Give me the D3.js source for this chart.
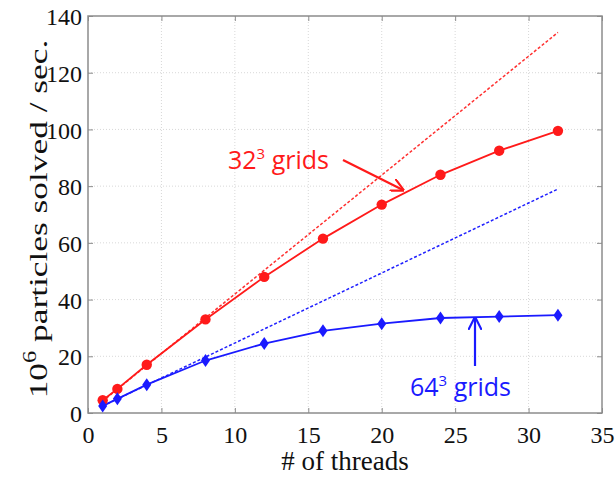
<!DOCTYPE html>
<html>
<head>
<meta charset="utf-8">
<script src="https://cdn.jsdelivr.net/npm/d3@7"></script>
<style>
  body { margin: 0; background: #fff; }
  svg { display: block; }
</style>
</head>
<body>
<div id="chart"></div>
<script>
// thread counts and measured throughput (10^6 particles / sec)
var threads = [1, 2, 4, 8, 12, 16, 20, 24, 28, 32];
var grid32 = [4.5, 8.5, 17, 33, 48, 61.5, 73.5, 84, 92.5, 99.5];
var grid64 = [2.5, 5, 10, 18.5, 24.5, 29, 31.5, 33.5, 34, 34.5];
// ideal linear scaling lines (dashed)
var ideal32 = [[1, 4.2], [32, 134.2]];
var ideal64 = [[1, 2.47], [32, 79]];
var xTicks = [0, 5, 10, 15, 20, 25, 30, 35];
var yTicks = [0, 20, 40, 60, 80, 100, 120, 140];

var width = 616, height = 477;
var margin = { left: 88, top: 16, right: 14, bottom: 64 };
var serif = "'Liberation Serif', 'Times New Roman', serif";
var sans = "'Open Sans', 'Noto Sans', sans-serif";

var svg = d3.select("#chart").append("svg")
    .attr("width", width)
    .attr("height", height);

var x = d3.scaleLinear().domain([0, 35]).range([margin.left, width - margin.right]);
var y = d3.scaleLinear().domain([0, 140]).range([height - margin.bottom, margin.top]);

// grid lines
svg.append("g").selectAll("line")
    .data(xTicks.slice(1, -1))
    .enter().append("line")
    .attr("x1", function (d) { return x(d); })
    .attr("x2", function (d) { return x(d); })
    .attr("y1", y(0)).attr("y2", y(140))
    .attr("stroke", "#d8d8d8").attr("stroke-width", 1)
    .attr("stroke-dasharray", "1,2");
svg.append("g").selectAll("line")
    .data(yTicks.slice(1, -1))
    .enter().append("line")
    .attr("y1", function (d) { return y(d); })
    .attr("y2", function (d) { return y(d); })
    .attr("x1", x(0)).attr("x2", x(35))
    .attr("stroke", "#d8d8d8").attr("stroke-width", 1)
    .attr("stroke-dasharray", "1,2");

// axes (ticks inward, mirrored on top / right)
var axisColor = "#8c8c8c";
function styleAxis(g) {
    g.select(".domain").remove();
    g.selectAll(".tick line").attr("stroke", axisColor);
    g.selectAll(".tick text")
        .attr("fill", "#111")
        .style("font-family", serif)
        .style("font-size", "24px");
}

svg.append("g")
    .attr("transform", "translate(0," + y(0) + ")")
    .call(d3.axisBottom(x).tickValues(xTicks).tickSizeInner(-5).tickSizeOuter(0).tickPadding(13))
    .call(styleAxis);
svg.append("g")
    .attr("transform", "translate(" + x(0) + ",0)")
    .call(d3.axisLeft(y).tickValues(yTicks).tickSizeInner(-5).tickSizeOuter(0).tickPadding(6))
    .call(styleAxis)
    .selectAll(".tick text").attr("dy", "0.36em");
svg.append("g")
    .attr("transform", "translate(0," + y(140) + ")")
    .call(d3.axisTop(x).tickValues(xTicks).tickSizeInner(-5).tickSizeOuter(0).tickFormat(""))
    .call(styleAxis);
svg.append("g")
    .attr("transform", "translate(" + x(35) + ",0)")
    .call(d3.axisRight(y).tickValues(yTicks).tickSizeInner(-5).tickSizeOuter(0).tickFormat(""))
    .call(styleAxis);

// box
svg.append("rect")
    .attr("x", x(0)).attr("y", y(140))
    .attr("width", x(35) - x(0)).attr("height", y(0) - y(140))
    .attr("fill", "none").attr("stroke", axisColor).attr("stroke-width", 1.5);

// ideal lines
var line = d3.line().x(function (d) { return x(d[0]); }).y(function (d) { return y(d[1]); });
svg.append("path").datum(ideal32).attr("d", line)
    .attr("fill", "none").attr("stroke", "#ff3030").attr("stroke-width", 1.5)
    .attr("stroke-dasharray", "3,2");
svg.append("path").datum(ideal64).attr("d", line)
    .attr("fill", "none").attr("stroke", "#2020ff").attr("stroke-width", 1.5)
    .attr("stroke-dasharray", "3,2");

// measured series
var red = "#ff1a1a", blue = "#1a1aff";
var pts32 = threads.map(function (t, i) { return [t, grid32[i]]; });
var pts64 = threads.map(function (t, i) { return [t, grid64[i]]; });

svg.append("path").datum(pts32).attr("d", line)
    .attr("fill", "none").attr("stroke", red).attr("stroke-width", 1.8);
svg.append("path").datum(pts64).attr("d", line)
    .attr("fill", "none").attr("stroke", blue).attr("stroke-width", 1.8);

svg.append("g").selectAll("circle")
    .data(pts32)
    .enter().append("circle")
    .attr("cx", function (d) { return x(d[0]); })
    .attr("cy", function (d) { return y(d[1]); })
    .attr("r", 5.2)
    .attr("fill", red);

svg.append("g").selectAll("path")
    .data(pts64)
    .enter().append("path")
    .attr("transform", function (d) { return "translate(" + x(d[0]) + "," + y(d[1]) + ")"; })
    .attr("d", "M0,-6.5L4.5,0L0,6.5L-4.5,0Z")
    .attr("fill", blue);

// axis titles
svg.append("text")
    .attr("x", x(17.5)).attr("y", 470)
    .attr("text-anchor", "middle")
    .style("font-family", serif)
    .style("font-size", "27px")
    .attr("fill", "#111")
    .text("# of threads");

// y title is stretched along its length, as in the original figure
var yt = svg.append("text")
    .attr("transform", "translate(47,219) rotate(-90) scale(1.36,1)")
    .attr("text-anchor", "middle")
    .style("font-family", serif)
    .style("font-size", "26px")
    .attr("fill", "#111");
yt.append("tspan").text("10");
yt.append("tspan").attr("dy", -11).style("font-size", "18px").text("6");
yt.append("tspan").attr("dy", 11).text(" particles solved / sec.");

// annotations
svg.append("defs").selectAll("marker")
    .data([["ahRed", red], ["ahBlue", blue]])
    .enter().append("marker")
    .attr("id", function (d) { return d[0]; })
    .attr("viewBox", "0 0 10 10")
    .attr("refX", 9).attr("refY", 5)
    .attr("markerWidth", 6).attr("markerHeight", 6)
    .attr("orient", "auto")
    .append("path")
    .attr("d", "M0,0L10,5L0,10")
    .attr("fill", "none")
    .attr("stroke", function (d) { return d[1]; })
    .attr("stroke-width", 1.6);

var t32 = svg.append("text")
    .attr("x", 228).attr("y", 169)
    .style("font-family", sans)
    .style("font-size", "25px")
    .attr("fill", red);
t32.append("tspan").text("32");
t32.append("tspan").attr("dy", -10).style("font-size", "15px").text("3");
t32.append("tspan").attr("dy", 10).text(" grids");

svg.append("line")
    .attr("x1", 343).attr("y1", 160).attr("x2", 403).attr("y2", 190)
    .attr("stroke", red).attr("stroke-width", 2.2)
    .attr("marker-end", "url(#ahRed)");

var t64 = svg.append("text")
    .attr("x", 410).attr("y", 396)
    .style("font-family", sans)
    .style("font-size", "25px")
    .attr("fill", blue);
t64.append("tspan").text("64");
t64.append("tspan").attr("dy", -10).style("font-size", "15px").text("3");
t64.append("tspan").attr("dy", 10).text(" grids");

svg.append("line")
    .attr("x1", 475).attr("y1", 366).attr("x2", 475).attr("y2", 318)
    .attr("stroke", blue).attr("stroke-width", 2.2)
    .attr("marker-end", "url(#ahBlue)");
</script>
</body>
</html>
